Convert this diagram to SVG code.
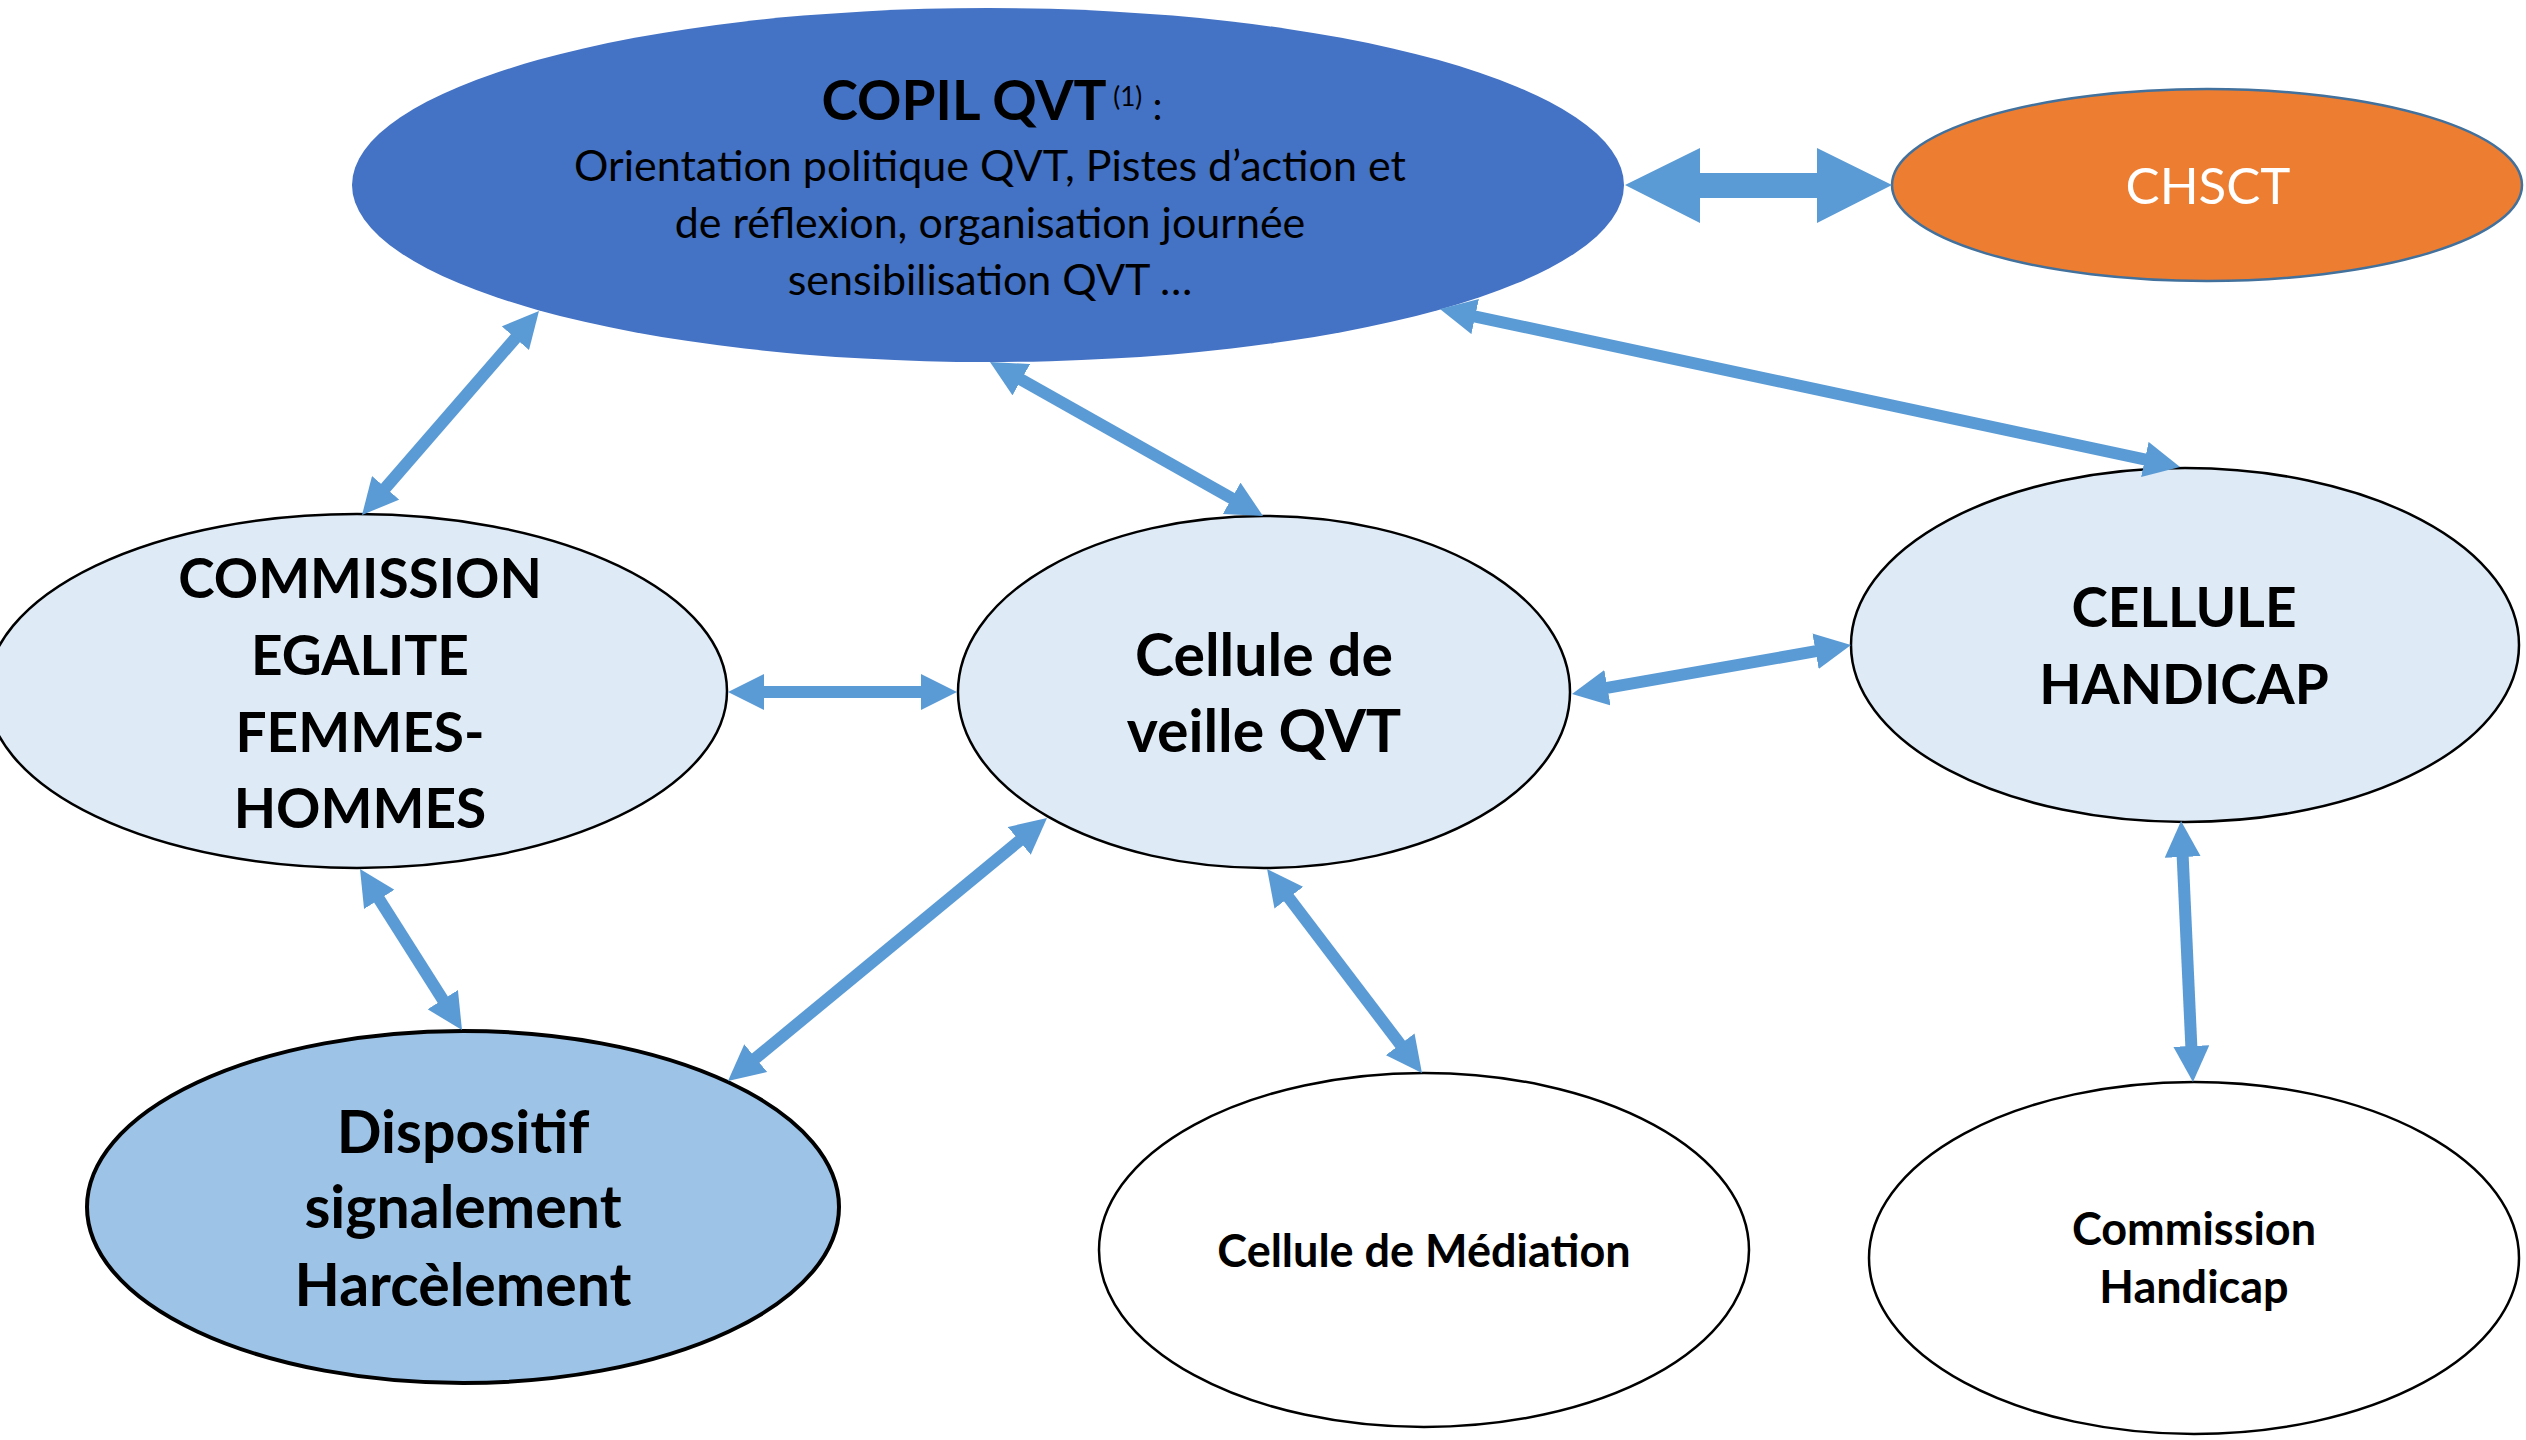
<svg xmlns="http://www.w3.org/2000/svg" width="2526" height="1440" viewBox="0 0 2526 1440">
<style>
.t{font-family:Lato,"Open Sans","Liberation Sans",sans-serif;fill:#000;text-anchor:middle}
.b{font-weight:700}
.cap{font-size:55px}
.low{font-size:59px}
.mid{font-size:45px}
.body{font-size:43px}
.node{stroke:#000;stroke-width:2.5}
.con{stroke:#5B9BD5;stroke-width:12;fill:none;marker-start:url(#ah);marker-end:url(#ah)}
</style>
<defs>
<marker id="ah" viewBox="0 0 36 36" markerWidth="36" markerHeight="36" markerUnits="userSpaceOnUse" refX="2" refY="18" orient="auto-start-reverse">
<path d="M0,0 L36,18 L0,36 Z" fill="#5B9BD5"/>
</marker>
</defs>
<rect width="2526" height="1440" fill="#fff"/>

<g id="copil">
<ellipse cx="988" cy="185" rx="636" ry="177" fill="#4472C4"/>
<text class="t" x="992" y="120"><tspan class="b cap">COPIL QVT</tspan><tspan font-size="26" dy="-14"> (1)</tspan><tspan font-size="40" dy="14"> :</tspan></text>
<text class="t body" x="990" y="181">Orientation politique QVT, Pistes d’action et</text>
<text class="t body" x="990" y="238">de réflexion, organisation journée</text>
<text class="t body" x="990" y="295">sensibilisation QVT …</text>
</g>

<g id="chsct">
<ellipse cx="2207" cy="185" rx="315" ry="96" fill="#ED7D31" stroke="#41719C" stroke-width="2.5"/>
<text class="t" x="2208" y="204" font-size="51" style="fill:#fff">CHSCT</text>
</g>

<g id="commission-egalite">
<ellipse class="node" cx="357" cy="691" rx="370" ry="177" fill="#DEEAF6"/>
<text class="t b cap" x="360" y="598">COMMISSION</text>
<text class="t b cap" x="360" y="675">EGALITE</text>
<text class="t b cap" x="360" y="752">FEMMES-</text>
<text class="t b cap" x="360" y="828">HOMMES</text>
</g>

<g id="cellule-veille">
<ellipse class="node" cx="1264" cy="692" rx="306" ry="176" fill="#DEEAF6"/>
<text class="t b low" x="1264" y="676">Cellule de</text>
<text class="t b low" x="1264" y="752">veille QVT</text>
</g>

<g id="cellule-handicap">
<ellipse class="node" cx="2185" cy="645" rx="334" ry="177" fill="#DEEAF6"/>
<text class="t b cap" x="2184" y="627">CELLULE</text>
<text class="t b cap" x="2184" y="704">HANDICAP</text>
</g>

<g id="dispositif">
<ellipse cx="463" cy="1207" rx="376" ry="176" fill="#9DC3E6" stroke="#000" stroke-width="4"/>
<text class="t b low" x="463" y="1153">Dispositif</text>
<text class="t b low" x="463" y="1228">signalement</text>
<text class="t b low" x="463" y="1306">Harcèlement</text>
</g>

<g id="mediation">
<ellipse class="node" cx="1424" cy="1250" rx="325" ry="177" fill="#fff"/>
<text class="t b mid" x="1424" y="1267">Cellule de Médiation</text>
</g>

<g id="commission-handicap">
<ellipse class="node" cx="2194" cy="1258" rx="325" ry="176" fill="#fff"/>
<text class="t b mid" x="2194" y="1245">Commission</text>
<text class="t b mid" x="2194" y="1303">Handicap</text>
</g>

<g id="connectors">
<polygon points="1625,185 1700,148 1700,173 1817,173 1817,148 1892,185 1817,223 1817,198 1700,198 1700,223" fill="#5B9BD5"/>
<line class="con" x1="516.7" y1="336.7" x2="384.3" y2="489.3"/>
<line class="con" x1="1019.6" y1="378.7" x2="1233.4" y2="499.3"/>
<line class="con" x1="1473.2" y1="316.1" x2="2146.8" y2="459.9"/>
<line class="con" x1="762" y1="692" x2="923" y2="692"/>
<line class="con" x1="1605.5" y1="688.1" x2="1817.5" y2="650.9"/>
<line class="con" x1="1020.8" y1="839.6" x2="754.2" y2="1059.4"/>
<line class="con" x1="378.2" y1="897.7" x2="443.8" y2="1001.3"/>
<line class="con" x1="1287.6" y1="896.1" x2="1401.4" y2="1045.9"/>
<line class="con" x1="2182.6" y1="855" x2="2191.4" y2="1048"/>
</g>
</svg>
